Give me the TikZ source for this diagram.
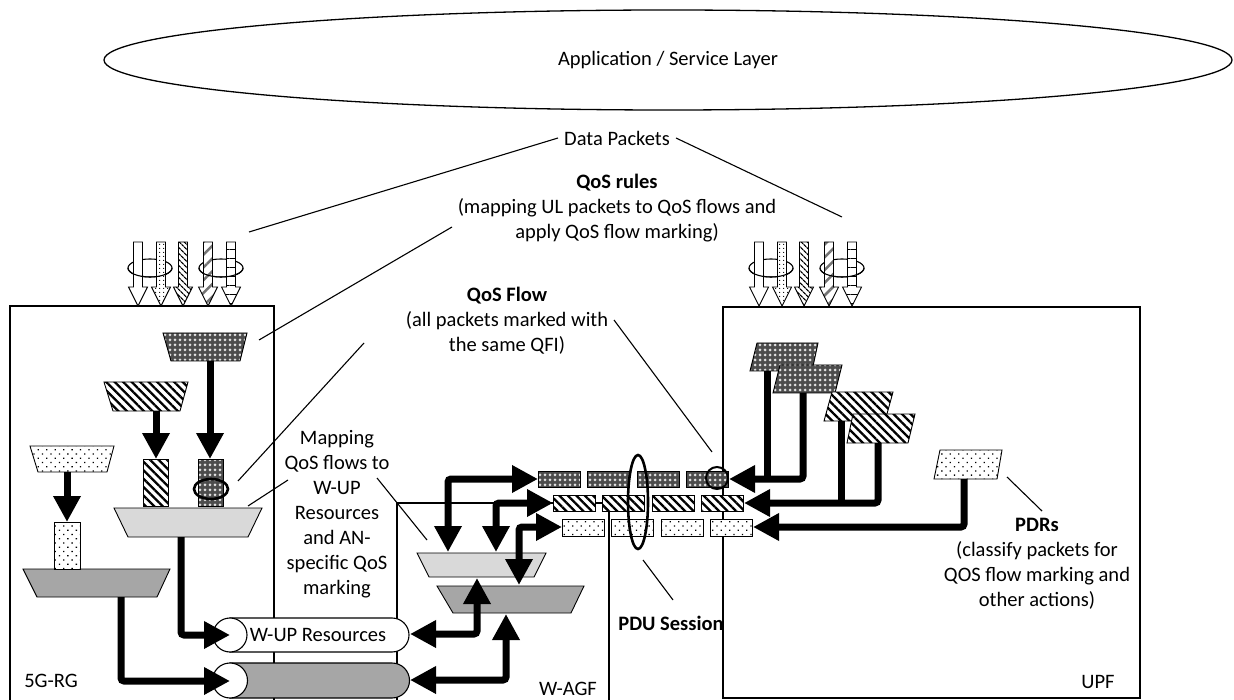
\documentclass[tikz,border=0pt]{standalone}
\usepackage{fontspec}
\setmainfont{Carlito}
\usepackage{tikz}
\usetikzlibrary{arrows.meta}
\usetikzlibrary{shapes.geometric}
\usetikzlibrary{patterns,patterns.meta}

\tikzset{
  lbl/.style={font=\fontsize{20.5}{25}\selectfont,align=center,inner sep=0pt},
  thin line/.style={line width=1.1pt},
  box/.style={draw,line width=1.3pt},
  flow/.style={line width=7pt,rounded corners=3pt,>={Triangle[length=26pt,width=26pt]}},
  ring/.style={line width=2.6pt},
  pkt/.style={draw,line width=0.9pt},
  hatchfill/.style={preaction={fill=black!70},pattern={Dots[distance=5pt,radius=1.5pt]},pattern color=black!12},
  stripefill/.style={preaction={fill=white},pattern={Lines[angle=-45,distance=6pt,line width=2.3pt]}},
  dotfill/.style={preaction={fill=white},pattern={Dots[angle=45,distance=6pt,radius=0.9pt]}},
  lightfill/.style={fill=black!15},
  darkfill/.style={fill=black!35},
  plainarrow/.style={fill=white},
  dotarrow/.style={preaction={fill=white},pattern={Dots[distance=4pt,radius=0.7pt]}},
  stripearrow/.style={preaction={fill=white},pattern={Lines[angle=-45,distance=4pt,line width=1.3pt]}},
  slasharrow/.style={preaction={fill=white},pattern={Lines[angle=45,distance=9pt,line width=2.5pt]},pattern color=black!55},
  bararrow/.style={preaction={fill=white},pattern={Lines[angle=0,distance=9pt,line width=1pt]}},
}

% hollow packet arrow: x position, fill style
\newcommand{\pktarrow}[2]{%
  \path[draw,line width=0.9pt,#2] (#1-4.5,242) -- (#1+4.5,242) -- (#1+4.5,287) -- (#1+9.5,287)
    -- (#1,306) -- (#1-9.5,287) -- (#1-4.5,287) -- cycle;}

\begin{document}
\begin{tikzpicture}[x=1pt,y=-1pt,line cap=butt,line join=miter]
\useasboundingbox (0,0) rectangle (1234,700);

\node[draw,ellipse,line width=1.3pt,minimum width=1128pt,minimum height=100pt,lbl] (app) at (668,60) {Application / Service Layer};

% boxes
\draw[box] (10,306) rectangle (274,704);
\draw[box] (397,503) rectangle (609,704);
\draw[box] (723,307) rectangle (1140,698);
\node[lbl] (rg) at (51,681) {5G-RG};
\node[lbl] (agf) at (568,689) {W-AGF};
\node[lbl] (upf) at (1098,682) {UPF};

% labels
\node[lbl] (dp) at (617,138) {Data Packets};
\node[lbl] (rules) at (617,208) {\textbf{QoS rules}\\(mapping UL packets to QoS flows and\\apply QoS flow marking)};
\node[lbl] (qf) at (507,321) {\textbf{QoS Flow}\\(all packets marked with\\the same QFI)};
\node[lbl] (map) at (337,514) {Mapping\\QoS flows to\\W-UP\\Resources\\and AN-\\specific QoS\\marking};
\node[lbl] (pdu) at (671,623) {\textbf{PDU Session}};
\node[lbl] (pdr) at (1037,564) {\textbf{PDRs}\\(classify packets for\\QOS flow marking and\\other actions)};

% packet arrows entering 5G-RG and UPF
\foreach \gx in {0,621}{
  \draw[thin line] (150+\gx,268) ellipse (22 and 9);
  \draw[thin line] (221+\gx,268) ellipse (22 and 9);
  \pktarrow{138+\gx}{plainarrow}
  \pktarrow{161+\gx}{dotarrow}
  \pktarrow{183+\gx}{stripearrow}
  \pktarrow{208+\gx}{slasharrow}
  \pktarrow{231+\gx}{bararrow}
  \draw[thin line] (128+\gx,268) arc (180:0:22 and 9);
  \draw[thin line] (199+\gx,268) arc (180:0:22 and 9);
}

% 5G-RG classifiers and queues
\path[pkt,hatchfill] (163,333) -- (247,333) -- (240,361) -- (171,361) -- cycle;
\path[pkt,stripefill] (104,382) -- (188,382) -- (180,411) -- (113,411) -- cycle;
\path[pkt,dotfill] (30,446) -- (114,446) -- (107,472) -- (38,472) -- cycle;
\path[pkt,lightfill] (114,508) -- (262,508) -- (248,537) -- (128,537) -- cycle;
\path[pkt,darkfill] (23,569) -- (170,569) -- (157,597) -- (37,597) -- cycle;
\path[pkt,stripefill] (143,459) rectangle (168,506);
\path[pkt,hatchfill] (198,459) rectangle (223,506);
\path[pkt,dotfill] (54,522) rectangle (80,569);
\draw[ring] (211,489) ellipse (17 and 10);

\coordinate (hA) at (210,361);  \coordinate (hB) at (210,459);
\coordinate (sA) at (156,411);  \coordinate (sB) at (156,459);
\coordinate (dA) at (67,472);   \coordinate (dB) at (67,522);
\coordinate (lA) at (181,537);  \coordinate (gA) at (121,597);
\coordinate (wupL) at (230,635); \coordinate (pipeL) at (230,681);
\draw[flow,->] (hA) -- (hB);
\draw[flow,->] (sA) -- (sB);
\draw[flow,->] (dA) -- (dB);

% W-UP resources (pipes)
\path[draw,line width=1.1pt,fill=white] (230,618) -- (392,618) arc (-90:90:17) -- (230,652) -- cycle;
\draw[line width=1.1pt,fill=white] (230,635) circle (17);
\path[draw,line width=1.1pt,darkfill] (230,663) -- (392,663) arc (-90:90:17.5) -- (230,698) -- cycle;
\draw[line width=1.1pt,fill=white] (230,680.5) circle (17.5);
\node[lbl] (wup) at (318,635) {W-UP Resources};
\coordinate (wupR) at (410,634); \coordinate (pipeR) at (410,680);
\draw[flow,->] (lA) |- (wupL);
\draw[flow,->] (gA) |- (pipeL);

% W-AGF mapping
\path[pkt,lightfill] (417,553) -- (546,553) -- (534,577) -- (429,577) -- cycle;
\path[pkt,darkfill] (437,586) -- (584,586) -- (571,613) -- (453,613) -- cycle;

% PDU session queues
\foreach \i in {0,...,3}{
  \path[pkt,hatchfill] (538+49.5*\i,471) rectangle ++(42,16);
  \path[pkt,stripefill] (553+49.5*\i,495) rectangle ++(42,16);
  \path[pkt,dotfill] (562+49.5*\i,519) rectangle ++(42,17);
}
\coordinate (rowA) at (538,479); \coordinate (rowB) at (553,503); \coordinate (rowC) at (562,527);
\coordinate (rowAr) at (729,479); \coordinate (rowBr) at (744,503); \coordinate (rowCr) at (753,527);
\coordinate (ltA) at (448,552); \coordinate (ltB) at (496,552); \coordinate (dkA) at (519,585);
\coordinate (ltC) at (477,578); \coordinate (dkB) at (506,614);
\draw[flow,<->] (ltA) |- (rowA);
\draw[flow,<->] (ltB) |- (rowB);
\draw[flow,<->] (dkA) |- (rowC);
\draw[flow,<->] (wupR) -| (ltC);
\draw[flow,<->] (pipeR) -| (dkB);
\draw[ring] (638,502) ellipse (10 and 47);
\draw[line width=2pt] (717,478) circle (11);

% UPF detectors
\path[pkt,hatchfill] (757,343) -- (818,343) -- (812,371) -- (750,371) -- cycle;
\path[pkt,hatchfill] (780,365) -- (842,365) -- (835,393) -- (773,393) -- cycle;
\path[pkt,stripefill] (832,392) -- (893,392) -- (885,421) -- (824,421) -- cycle;
\path[pkt,stripefill] (853,414) -- (915,414) -- (908,443) -- (847,443) -- cycle;
\path[pkt,dotfill] (940,450) -- (1002,450) -- (997,479) -- (934,479) -- cycle;
\coordinate (uA) at (767,371); \coordinate (uB) at (803,393);
\coordinate (uC) at (841,421); \coordinate (uD) at (878,443);
\coordinate (uE) at (964,479);
\draw[flow] (uA) -- (uA |- rowAr);
\draw[flow,->] (uB) |- (rowAr);
\draw[flow] (uC) -- (uC |- rowBr);
\draw[flow,->] (uD) |- (rowBr);
\draw[flow,->] (uE) |- (rowCr);

% callout lines
\coordinate (dpL) at (249,232);  \coordinate (dpR) at (842,217);
\coordinate (rulesA) at (452,227); \coordinate (rulesB) at (259,340);
\coordinate (qfA) at (364,343);  \coordinate (qfB) at (238,481);
\coordinate (qfC) at (614,320);  \coordinate (qfD) at (712,452);
\coordinate (mapA) at (288,480); \coordinate (mapB) at (248,506);
\coordinate (mapC) at (377,478); \coordinate (mapD) at (427,540);
\coordinate (pduA) at (673,600); \coordinate (pduB) at (643,560);
\coordinate (pdrA) at (1042,511); \coordinate (pdrB) at (1007,477);
\draw[thin line] ([xshift=-6pt]dp.west) -- (dpL);
\draw[thin line] ([xshift=6pt]dp.east) -- (dpR);
\draw[thin line] (rulesA) -- (rulesB);
\draw[thin line] (qfA) -- (qfB);
\draw[thin line] (qfC) -- (qfD);
\draw[thin line] (mapA) -- (mapB);
\draw[thin line] (mapC) -- (mapD);
\draw[thin line] (pduA) -- (pduB);
\draw[thin line] (pdrA) -- (pdrB);
\end{tikzpicture}
\end{document}
